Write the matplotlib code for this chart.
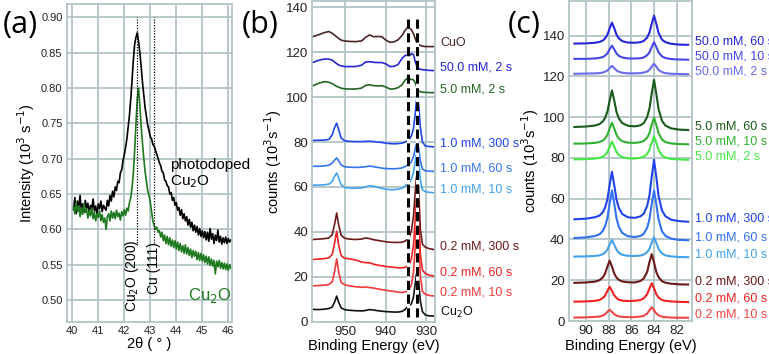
import numpy as np
import matplotlib
matplotlib.use("Agg")
import matplotlib.pyplot as plt

plt.rcParams['font.family'] = ['Liberation Sans', 'DejaVu Sans']

# ---------------- (a) XRD ----------------
two_theta_start = 40.05
two_theta_step = 0.05
xrd_photodoped = [
    0.628, 0.645, 0.622, 0.640, 0.631, 0.648, 0.627, 0.636, 0.624, 0.641,
    0.630, 0.637, 0.622, 0.634, 0.628, 0.643, 0.626, 0.633, 0.621, 0.636,
    0.629, 0.640, 0.625, 0.634, 0.630, 0.627, 0.641, 0.633, 0.648, 0.640,
    0.654, 0.646, 0.660, 0.655, 0.668, 0.666, 0.680, 0.684, 0.697, 0.705,
    0.716, 0.728, 0.745, 0.762, 0.785, 0.812, 0.840, 0.862, 0.872, 0.878,
    0.866, 0.850, 0.830, 0.808, 0.790, 0.772, 0.760, 0.747, 0.740, 0.731,
    0.728, 0.720, 0.718, 0.712, 0.706, 0.700, 0.694, 0.690, 0.682, 0.680,
    0.670, 0.668, 0.662, 0.660, 0.650, 0.652, 0.641, 0.645, 0.634, 0.638,
    0.627, 0.631, 0.620, 0.628, 0.615, 0.622, 0.612, 0.618, 0.606, 0.614,
    0.603, 0.610, 0.598, 0.606, 0.596, 0.604, 0.592, 0.601, 0.590, 0.598,
    0.588, 0.597, 0.585, 0.596, 0.583, 0.601, 0.586, 0.594, 0.580, 0.592,
    0.584, 0.599, 0.582, 0.590, 0.579, 0.588, 0.581, 0.589, 0.580, 0.587,
    0.582, 0.585]
xrd_cu2o = [
    0.632, 0.622, 0.638, 0.625, 0.633, 0.618, 0.630, 0.621, 0.636, 0.624,
    0.629, 0.616, 0.627, 0.619, 0.630, 0.615, 0.624, 0.612, 0.622, 0.617,
    0.626, 0.612, 0.621, 0.610, 0.616, 0.600, 0.618, 0.622, 0.612, 0.626,
    0.616, 0.624, 0.615, 0.627, 0.618, 0.623, 0.613, 0.625, 0.619, 0.628,
    0.620, 0.630, 0.626, 0.638, 0.645, 0.660, 0.680, 0.712, 0.750, 0.785,
    0.800, 0.775, 0.745, 0.722, 0.700, 0.682, 0.668, 0.655, 0.648, 0.638,
    0.625, 0.611, 0.606, 0.600, 0.603, 0.596, 0.598, 0.589, 0.596, 0.584,
    0.592, 0.580, 0.590, 0.578, 0.588, 0.576, 0.585, 0.574, 0.584, 0.572,
    0.582, 0.570, 0.580, 0.568, 0.577, 0.566, 0.578, 0.565, 0.574, 0.563,
    0.572, 0.560, 0.570, 0.562, 0.569, 0.557, 0.567, 0.556, 0.566, 0.555,
    0.564, 0.553, 0.562, 0.551, 0.561, 0.549, 0.558, 0.548, 0.556, 0.537,
    0.555, 0.547, 0.556, 0.545, 0.553, 0.544, 0.552, 0.543, 0.551, 0.542,
    0.550, 0.545]
xrd_refs = [42.5, 43.15]
xrd_ref_labels = ['Cu$_2$O (200)', 'Cu (111)']

# ---------------- (b) Cu 2p XPS ----------------
xps_cu_energy = [958.0, 956.5, 955.0, 954.0, 953.2, 952.6, 952.1, 951.6, 951.0, 950.2,
                 949.0, 947.5, 946.0, 945.0, 944.0, 943.0, 942.0, 941.0, 940.0, 939.0,
                 938.0, 937.0, 936.0, 935.3, 934.7, 934.2, 933.7, 933.2, 932.8, 932.5,
                 932.2, 931.9, 931.5, 931.0, 930.3, 929.3, 928.0]
cu_labels = ['Cu$_2$O', '0.2 mM, 10 s', '0.2 mM, 60 s', '0.2 mM, 300 s',
             '1.0 mM, 10 s', '1.0 mM, 60 s', '1.0 mM, 300 s',
             '5.0 mM, 2 s', '50.0 mM, 2 s', 'CuO']
cu_colors = ['#111111', '#f23a3a', '#ee2424', '#6e1a1a',
             '#42a2ee', '#3474ee', '#2046ec',
             '#246424', '#2626d4', '#4a2626']
cu_spectra = [
    [5.5, 5.4, 5.6, 5.9, 6.5, 8.8, 11.4, 8.6, 6.2, 5.4, 5.1, 4.9, 4.8, 5.0, 5.4, 5.2, 4.9, 4.7, 4.5,
     4.4, 4.3, 4.3, 4.6, 5.4, 6.6, 7.2, 8.0, 11.0, 16.5, 21.0, 22.0, 17.5, 9.0, 4.5, 3.0, 2.6, 2.5],
    [16.0, 16.1, 16.3, 16.6, 17.8, 22.5, 28.0, 22.0, 17.5, 16.5, 16.0, 15.6, 15.3, 15.5, 15.2, 15.0,
     14.6, 14.3, 14.0, 13.7, 13.5, 13.2, 13.0, 13.2, 13.7, 14.6, 16.5, 22.0, 32.0, 42.0, 45.0, 36.0,
     20.0, 13.5, 12.2, 11.7, 11.4],
    [27.7, 27.9, 28.1, 28.5, 30.0, 35.0, 40.3, 34.0, 29.5, 28.3, 28.0, 27.5, 26.6, 26.3, 26.2, 25.6,
     25.2, 24.9, 24.6, 24.4, 24.2, 24.0, 24.0, 24.2, 24.8, 25.8, 28.0, 34.0, 45.0, 54.0, 57.0, 47.0,
     30.0, 23.0, 21.5, 20.7, 20.3],
    [36.6, 36.8, 37.0, 37.3, 38.8, 43.5, 48.4, 43.0, 38.5, 37.2, 36.8, 36.6, 36.8, 37.3, 37.0, 36.5,
     36.2, 35.9, 35.6, 35.4, 35.3, 35.3, 35.4, 35.9, 36.6, 37.8, 40.5, 47.0, 57.0, 64.0, 66.0, 58.0,
     41.0, 34.5, 33.2, 32.5, 32.1],
    [60.8, 60.8, 61.0, 61.3, 62.5, 64.8, 66.2, 64.0, 61.0, 59.8, 59.5, 59.4, 59.6, 60.0, 60.6, 60.3,
     59.8, 59.4, 59.0, 58.8, 58.8, 59.0, 59.5, 60.4, 61.3, 62.0, 63.5, 66.5, 71.0, 74.5, 75.5, 71.0,
     63.0, 58.8, 57.9, 57.6, 57.4],
    [69.2, 69.2, 69.4, 69.7, 70.6, 72.0, 72.9, 71.6, 69.8, 69.0, 68.8, 68.7, 68.8, 69.0, 69.3, 69.0,
     68.7, 68.4, 68.2, 68.1, 68.1, 68.2, 68.5, 69.0, 69.6, 70.2, 71.3, 73.5, 76.8, 79.0, 79.8, 77.0,
     71.5, 68.0, 67.2, 67.0, 66.9],
    [80.7, 80.8, 80.9, 81.2, 83.2, 86.5, 88.4, 85.5, 81.8, 80.6, 80.3, 80.2, 80.2, 80.3, 80.4, 80.2,
     80.0, 79.8, 79.5, 79.3, 79.2, 79.3, 79.5, 80.0, 80.6, 81.3, 82.8, 86.0, 92.0, 98.0, 101.0, 96.0,
     86.5, 80.0, 78.3, 78.0, 77.8],
    [105.0, 106.2, 106.9, 106.6, 106.0, 105.3, 104.8, 104.4, 104.0, 103.7, 103.6, 103.6, 104.0,
     105.2, 105.5, 105.1, 105.0, 105.1, 104.5, 103.6, 103.7, 104.2, 105.5, 107.5, 108.4, 108.0,
     107.9, 107.7, 106.5, 105.0, 103.5, 102.7, 102.4, 102.2, 102.1, 102.0, 102.0],
    [115.4, 116.4, 117.0, 116.9, 116.5, 115.6, 114.9, 114.3, 113.9, 113.6, 113.6, 113.6, 114.2,
     115.6, 115.8, 115.5, 115.4, 115.4, 114.8, 113.6, 113.7, 114.5, 117.3, 118.5, 118.7, 118.4,
     119.3, 119.0, 116.0, 114.5, 113.0, 112.6, 112.4, 112.2, 112.1, 111.9, 111.8],
    [126.9, 127.8, 128.8, 129.2, 128.4, 127.6, 126.8, 126.1, 125.4, 125.0, 124.8, 124.7, 125.0,
     126.6, 127.7, 126.9, 127.0, 126.9, 125.4, 124.4, 124.6, 125.5, 127.5, 129.6, 131.0, 130.6,
     130.0, 128.2, 126.2, 124.8, 124.0, 123.4, 123.0, 122.7, 122.5, 122.5, 122.5],
]
cu_refs = [934.5, 932.3]

# ---------------- (c) Au 4f XPS ----------------
xps_au_energy = [91.0, 90.0, 89.2, 88.8, 88.5, 88.3, 88.1, 87.9, 87.7, 87.5, 87.3, 87.1, 86.8, 86.3,
                 85.7, 85.2, 84.9, 84.6, 84.4, 84.2, 84.0, 83.8, 83.6, 83.3, 83.0, 82.5, 81.8, 81.0]
au_labels = ['0.2 mM, 10 s', '0.2 mM, 60 s', '0.2 mM, 300 s',
             '1.0 mM, 10 s', '1.0 mM, 60 s', '1.0 mM, 300 s',
             '5.0 mM, 2 s', '5.0 mM, 10 s', '5.0 mM, 60 s',
             '50.0 mM, 2 s', '50.0 mM, 10 s', '50.0 mM, 60 s']
au_colors = ['#f24444', '#ee2222', '#6a1818',
             '#42a2ee', '#3272f0', '#2042ea',
             '#44e844', '#30b030', '#1a5a1a',
             '#6a6af0', '#4646e6', '#2626d8']
au_spectra = [
    [1.7, 1.8, 2.0, 2.2, 2.7, 3.3, 4.5, 5.5, 4.5, 3.3, 2.7, 2.3, 2.0, 1.9, 1.9, 2.2, 2.5, 3.7, 5.3,
     6.7, 5.3, 3.7, 2.8, 2.1, 1.9, 1.7, 1.6, 1.6],
    [9.5, 9.6, 9.9, 10.3, 11.3, 12.5, 14.8, 16.8, 14.8, 12.6, 11.3, 10.5, 10.0, 9.8, 9.9, 10.3,
     11.1, 13.2, 16.0, 18.5, 16.0, 13.1, 11.5, 10.3, 9.9, 9.6, 9.4, 9.3],
    [18.7, 18.9, 19.3, 20.0, 21.4, 23.3, 26.7, 29.6, 26.7, 23.3, 21.3, 20.2, 19.4, 19.0, 18.9, 19.6,
     20.9, 24.2, 28.9, 32.8, 28.8, 24.0, 21.5, 19.5, 18.8, 18.3, 18.0, 17.9],
    [31.6, 31.7, 31.9, 32.2, 32.8, 33.6, 35.0, 37.5, 39.7, 37.5, 35.0, 33.5, 32.5, 32.0, 31.9, 32.1,
     32.6, 33.8, 35.4, 38.5, 41.1, 38.4, 35.4, 33.1, 32.2, 31.7, 31.4, 31.3],
    [40.7, 41.0, 41.7, 42.5, 44.2, 46.5, 50.5, 57.8, 64.1, 57.7, 50.4, 46.3, 43.2, 41.6, 41.2, 41.7,
     42.8, 45.8, 50.0, 57.5, 64.0, 57.3, 49.7, 44.0, 41.8, 40.4, 39.8, 39.6],
    [49.9, 50.2, 50.9, 51.7, 53.4, 55.7, 59.6, 66.8, 73.2, 66.8, 59.6, 55.5, 52.5, 50.9, 50.6, 51.3,
     52.7, 56.5, 61.6, 71.0, 79.1, 70.7, 61.3, 54.2, 51.4, 49.7, 49.0, 48.7],
    [79.3, 79.4, 79.7, 80.0, 80.6, 81.5, 82.9, 85.6, 88.0, 85.6, 82.9, 81.5, 80.4, 79.8, 79.7, 80.1,
     80.6, 82.0, 84.0, 87.5, 90.6, 87.5, 83.9, 81.2, 80.2, 79.5, 79.3, 79.1],
    [87.0, 87.1, 87.4, 87.8, 88.5, 89.6, 91.3, 94.5, 97.3, 94.5, 91.3, 89.5, 88.2, 87.5, 87.4, 87.7,
     88.3, 90.0, 92.2, 96.3, 99.8, 96.2, 92.1, 89.0, 87.8, 87.1, 86.8, 86.7],
    [95.2, 95.4, 95.9, 96.6, 97.9, 99.7, 102.7, 108.2, 113.1, 108.2, 102.6, 99.5, 97.1, 95.8, 95.5,
     96.0, 97.1, 100.2, 104.3, 111.7, 118.3, 111.5, 103.9, 98.2, 95.9, 94.5, 93.9, 93.7],
    [121.3, 121.4, 121.5, 121.6, 121.9, 122.3, 122.9, 124.1, 125.2, 124.1, 122.9, 122.3, 121.8,
     121.5, 121.5, 121.6, 121.9, 122.4, 123.3, 124.8, 126.2, 124.8, 123.2, 122.1, 121.6, 121.3,
     121.2, 121.1],
    [128.6, 128.6, 128.8, 129.1, 129.5, 130.2, 131.3, 133.3, 135.1, 133.3, 131.3, 130.1, 129.3,
     128.8, 128.8, 128.9, 129.3, 130.4, 131.8, 134.5, 136.8, 134.5, 131.8, 129.8, 129.0, 128.5,
     128.3, 128.2],
    [136.1, 136.2, 136.5, 136.9, 137.6, 138.7, 140.4, 143.6, 146.4, 143.7, 140.5, 138.7, 137.3,
     136.6, 136.5, 136.8, 137.4, 139.1, 141.5, 145.9, 149.8, 145.8, 141.4, 138.0, 136.8, 136.0,
     135.6, 135.5],
]

GRID = '#b3c4c7'
TICK_FS = 9.5
LABEL_FS = 10.5
SERIES_FS = 9


def style_axes(ax, fs):
    ax.set_axisbelow(True)
    ax.grid(True, color=GRID, lw=1.3)
    for s in ax.spines.values():
        s.set_color(GRID)
        s.set_linewidth(1.3)
    ax.tick_params(length=0, pad=3, labelsize=fs, colors='#222222')


fig = plt.figure(figsize=(7.69, 3.54), dpi=100)

# (a)
ax_a = fig.add_axes([0.0867, 0.0912, 0.2154, 0.8975])
style_axes(ax_a, 8)
tt = np.round(two_theta_start + two_theta_step * np.arange(len(xrd_photodoped)), 2)
ax_a.plot(tt, xrd_photodoped, color='black', lw=1.2)
tt2 = np.round(two_theta_start + two_theta_step * np.arange(len(xrd_cu2o)), 2)
ax_a.plot(tt2, xrd_cu2o, color='#1e7a1e', lw=1.2)
ax_a.vlines(xrd_refs, 0.58, 0.90, colors='black', linestyles=(0, (1, 1.2)), lw=0.9)
ax_a.text(xrd_refs[0] - 0.22, 0.535, xrd_ref_labels[0], rotation=90, ha='center', va='center', fontsize=10)
ax_a.text(xrd_refs[1], 0.545, xrd_ref_labels[1], rotation=90, ha='center', va='center', fontsize=10)
ax_a.text(43.75, 0.691, 'photodoped', fontsize=11, ha='left', va='center')
ax_a.text(43.75, 0.668, 'Cu$_2$O', fontsize=11, ha='left', va='center')
ax_a.text(44.45, 0.507, 'Cu$_2$O', fontsize=12, color='#1e7a1e', ha='left', va='center')
ax_a.set_xlim(39.785, 46.154)
ax_a.set_ylim(0.4693, 0.9188)
ax_a.set_xticks(range(40, 47))
ax_a.set_yticks(np.arange(0.50, 0.91, 0.05))
ax_a.yaxis.set_major_formatter(matplotlib.ticker.FormatStrFormatter('%.2f'))
ax_a.set_xlabel('2θ ( ° )', fontsize=LABEL_FS, labelpad=1)
ax_a.set_ylabel('Intensity (10$^3$ s$^{-1}$)', fontsize=LABEL_FS, labelpad=3)

# (b)
ax_b = fig.add_axes([0.4061, 0.0912, 0.1596, 0.906])
style_axes(ax_b, TICK_FS)
for y, c, lab in zip(cu_spectra, cu_colors, cu_labels):
    ax_b.plot(xps_cu_energy, y, color=c, lw=1.2)
    ax_b.text(1.04, y[-1] + 1.5, lab, color=c, fontsize=SERIES_FS, va='center', ha='left',
              transform=ax_b.get_yaxis_transform())
for xr in cu_refs:
    ax_b.vlines(xr, 2, 136, colors='black', linestyles=(0, (3, 1.5)), lw=2.2, gapcolor='white', zorder=5)
ax_b.set_xlim(958.1, 927.9)
ax_b.set_ylim(0, 142.8)
ax_b.set_xticks([950, 940, 930])
ax_b.set_yticks(range(0, 141, 20))
ax_b.set_xlabel('Binding Energy (eV)', fontsize=LABEL_FS, labelpad=1)
ax_b.set_ylabel('counts (10$^3$s$^{-1}$)', fontsize=LABEL_FS, labelpad=1)

# (c)
ax_c = fig.add_axes([0.740, 0.0932, 0.1596, 0.904])
style_axes(ax_c, TICK_FS)
for y, c, lab in zip(au_spectra, au_colors, au_labels):
    ax_c.plot(xps_au_energy, y, color=c, lw=1.5)
    ax_c.text(1.027, y[-1] + 1.5, lab, color=c, fontsize=SERIES_FS, va='center', ha='left',
              transform=ax_c.get_yaxis_transform())
ax_c.set_xlim(91.47, 80.68)
ax_c.set_ylim(0, 157)
ax_c.set_xticks(range(90, 81, -2))
ax_c.set_yticks(range(0, 141, 20))
ax_c.set_xlabel('Binding Energy (eV)', fontsize=LABEL_FS, labelpad=1)
ax_c.set_ylabel('counts (10$^3$s$^{-1}$)', fontsize=LABEL_FS, labelpad=1)

# panel letters
for x, lab in [(0.027, '(a)'), (0.338, '(b)'), (0.682, '(c)')]:
    fig.text(x, 0.93, lab, fontsize=22, family='Open Sans', ha='center', va='center')

fig.savefig('out.png', dpi=100)
